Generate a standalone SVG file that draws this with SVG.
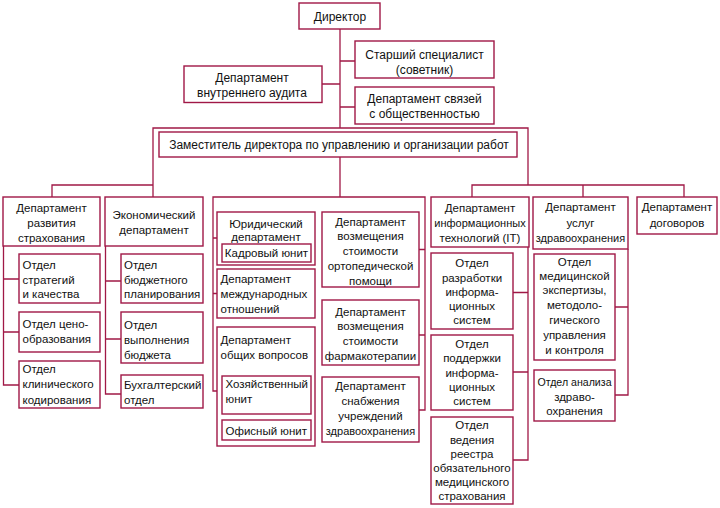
<svg xmlns="http://www.w3.org/2000/svg" width="720" height="508" viewBox="0 0 720 508">
<style>
.b{fill:#fff;stroke:#a01846;stroke-width:1.4}
.l{fill:none;stroke:#a01846;stroke-width:1.3}
text{font-family:"Liberation Sans",Arial,sans-serif;font-size:11.5px;fill:#111}
.c{text-anchor:middle}
.t{font-size:12px}
.s{font-size:11px}
</style>
<rect width="720" height="508" fill="#fff"/>
<g id="connectors">
<path class="l" d="M340,29V128M340,61H355M322,84H340M340,107H355"/>
<path class="l" d="M153,197V128H528V185M340,157V197"/>
<path class="l" d="M52,197V185H153"/>
<path class="l" d="M472,197V185H684V197M583,185V197"/>
<path class="l" d="M217,391H213V197H425V410H419M213,293.5H217M213,238H217M425,249.5H419M425,335H419"/>
<path class="l" d="M3.5,246V385H19M3.5,279H19M3.5,332H19"/>
<path class="l" d="M105.5,246V394H121M105.5,281H121M105.5,339H121"/>
<path class="l" d="M528,247V460H513M528,292.5H513M528,372H513"/>
<path class="l" d="M628,249V395H615M628,307H615"/>
</g>
<g id="director"><rect class="b" x="299" y="3" width="81" height="26"/><text class="c t" x="340" y="20.5">Директор</text></g>
<g id="senior"><rect class="b" x="355" y="41" width="139" height="37"/><text class="c t"><tspan x="424.5" y="58.5">Старший специалист</tspan><tspan x="424.5" y="73.5">(советник)</tspan></text></g>
<g id="audit"><rect class="b" x="184" y="66" width="138" height="36.5"/><text class="c t"><tspan x="252" y="81.5">Департамент</tspan><tspan x="252" y="96.5">внутреннего аудита</tspan></text></g>
<g id="pr"><rect class="b" x="355" y="87" width="139" height="37"/><text class="c t"><tspan x="424.5" y="103">Департамент связей</tspan><tspan x="424.5" y="117.5">с общественностью</tspan></text></g>
<g id="deputy"><rect class="b" x="159" y="132" width="358" height="25"/><text class="c t" x="339" y="149">Заместитель директора по управлению и организации работ</text></g>
<g id="dev-ins"><rect class="b" x="3" y="197" width="97" height="49"/><text class="c"><tspan x="51.5" y="211.5">Департамент</tspan><tspan x="51.5" y="226.5">развития</tspan><tspan x="51.5" y="241.5">страхования</tspan></text></g>
<g id="econ"><rect class="b" x="105" y="197" width="98" height="49"/><text class="c"><tspan x="154" y="218.5">Экономический</tspan><tspan x="154" y="233.5">департамент</tspan></text></g>
<g id="strategy"><rect class="b" x="19" y="254" width="81" height="49"/><text><tspan x="22.5" y="269">Отдел</tspan><tspan x="22.5" y="283.5">стратегий</tspan><tspan x="22.5" y="298">и качества</tspan></text></g>
<g id="pricing"><rect class="b" x="19" y="312" width="81" height="40"/><text><tspan x="22.5" y="328">Отдел цено-</tspan><tspan x="22.5" y="343.3">образования</tspan></text></g>
<g id="clinical"><rect class="b" x="19" y="361" width="81" height="47"/><text><tspan x="22.5" y="372.5">Отдел</tspan><tspan x="22.5" y="388">клинического</tspan><tspan x="22.5" y="403.5">кодирования</tspan></text></g>
<g id="budget-plan"><rect class="b" x="121" y="254" width="82" height="49"/><text><tspan x="124" y="269">Отдел</tspan><tspan x="124" y="283.7">бюджетного</tspan><tspan x="124" y="298.3">планирования</tspan></text></g>
<g id="budget-exec"><rect class="b" x="121" y="312" width="82" height="51"/><text><tspan x="124" y="329">Отдел</tspan><tspan x="124" y="344">выполнения</tspan><tspan x="124" y="359">бюджета</tspan></text></g>
<g id="accounting"><rect class="b" x="121" y="375" width="82" height="33"/><text><tspan x="124" y="388.7">Бухгалтерский</tspan><tspan x="124" y="404">отдел</tspan></text></g>
<g id="legal"><rect class="b" x="217" y="212" width="98" height="53"/><text class="c"><tspan x="266" y="227.5">Юридический</tspan><tspan x="266" y="241">департамент</tspan></text><rect class="b" x="222" y="244" width="89" height="18"/><text class="c" x="266.5" y="257">Кадровый юнит</text></g>
<g id="intl"><rect class="b" x="217" y="269" width="98" height="49"/><text><tspan x="220.5" y="283.3">Департамент</tspan><tspan x="220.5" y="298.3">международных</tspan><tspan x="220.5" y="313.3">отношений</tspan></text></g>
<g id="general"><rect class="b" x="217" y="327" width="98" height="119"/><text><tspan x="220.5" y="344">Департамент</tspan><tspan x="220.5" y="358.5">общих вопросов</tspan></text><rect class="b" x="222" y="376" width="89" height="38"/><text><tspan x="225.5" y="388">Хозяйственный</tspan><tspan x="225.5" y="403">юнит</tspan></text><rect class="b" x="222" y="420" width="89" height="20"/><text x="225.5" y="434.5">Офисный юнит</text></g>
<g id="ortho"><rect class="b" x="322" y="212" width="97" height="75"/><text class="c"><tspan x="370.5" y="225.7">Департамент</tspan><tspan x="370.5" y="240">возмещения</tspan><tspan x="370.5" y="255">стоимости</tspan><tspan x="370.5" y="269.7">ортопедической</tspan><tspan x="370.5" y="285">помощи</tspan></text></g>
<g id="pharma"><rect class="b" x="322" y="300" width="97" height="65"/><text class="c"><tspan x="370.5" y="315.7">Департамент</tspan><tspan x="370.5" y="330">возмещения</tspan><tspan x="370.5" y="344.7">стоимости</tspan><tspan x="370.5" y="360">фармакотерапии</tspan></text></g>
<g id="supply"><rect class="b" x="322" y="377" width="97" height="65"/><text class="c"><tspan x="370.5" y="390.3">Департамент</tspan><tspan x="370.5" y="405.3">снабжения</tspan><tspan x="370.5" y="420.3">учреждений</tspan><tspan class="s" x="370.5" y="435.3">здравоохранения</tspan></text></g>
<g id="it"><rect class="b" x="431" y="197" width="98" height="50"/><text class="c"><tspan x="480" y="211.5">Департамент</tspan><tspan class="s" x="480" y="227">информационных</tspan><tspan x="480" y="242">технологий (IT)</tspan></text></g>
<g id="it-dev"><rect class="b" x="431" y="253" width="82" height="76"/><text class="c"><tspan x="472" y="267.3">Отдел</tspan><tspan x="472" y="281.5">разработки</tspan><tspan x="472" y="295.7">информа-</tspan><tspan x="472" y="309.8">ционных</tspan><tspan x="472" y="324">систем</tspan></text></g>
<g id="it-support"><rect class="b" x="431" y="335" width="82" height="75"/><text class="c"><tspan x="472" y="347.5">Отдел</tspan><tspan x="472" y="362">поддержки</tspan><tspan x="472" y="376.5">информа-</tspan><tspan x="472" y="391">ционных</tspan><tspan x="472" y="405">систем</tspan></text></g>
<g id="registry"><rect class="b" x="431" y="417" width="82" height="87"/><text class="c"><tspan x="472" y="429.3">Отдел</tspan><tspan x="472" y="444">ведения</tspan><tspan x="472" y="458">реестра</tspan><tspan x="472" y="472.3">обязательного</tspan><tspan x="472" y="486.3">медицинского</tspan><tspan x="472" y="500.3">страхования</tspan></text></g>
<g id="health"><rect class="b" x="533" y="197" width="95" height="52"/><text class="c"><tspan x="580.5" y="211.3">Департамент</tspan><tspan x="580.5" y="227.3">услуг</tspan><tspan class="s" x="580.5" y="241.7">здравоохранения</tspan></text></g>
<g id="expertise"><rect class="b" x="534" y="254" width="81" height="106"/><text class="c"><tspan x="574.5" y="265.7">Отдел</tspan><tspan x="574.5" y="279.7">медицинской</tspan><tspan x="574.5" y="294.3">экспертизы,</tspan><tspan x="574.5" y="309">методоло-</tspan><tspan x="574.5" y="324">гического</tspan><tspan x="574.5" y="339">управления</tspan><tspan x="574.5" y="354">и контроля</tspan></text></g>
<g id="analysis"><rect class="b" x="534" y="370" width="81" height="51"/><text class="c"><tspan x="574.5" y="386" style="font-size:10.6px">Отдел анализа</tspan><tspan x="574.5" y="401">здраво-</tspan><tspan x="574.5" y="415.3">охранения</tspan></text></g>
<g id="contracts"><rect class="b" x="637" y="197" width="80" height="37"/><text class="c"><tspan x="677" y="211.3">Департамент</tspan><tspan x="677" y="227.3">договоров</tspan></text></g>
</svg>
